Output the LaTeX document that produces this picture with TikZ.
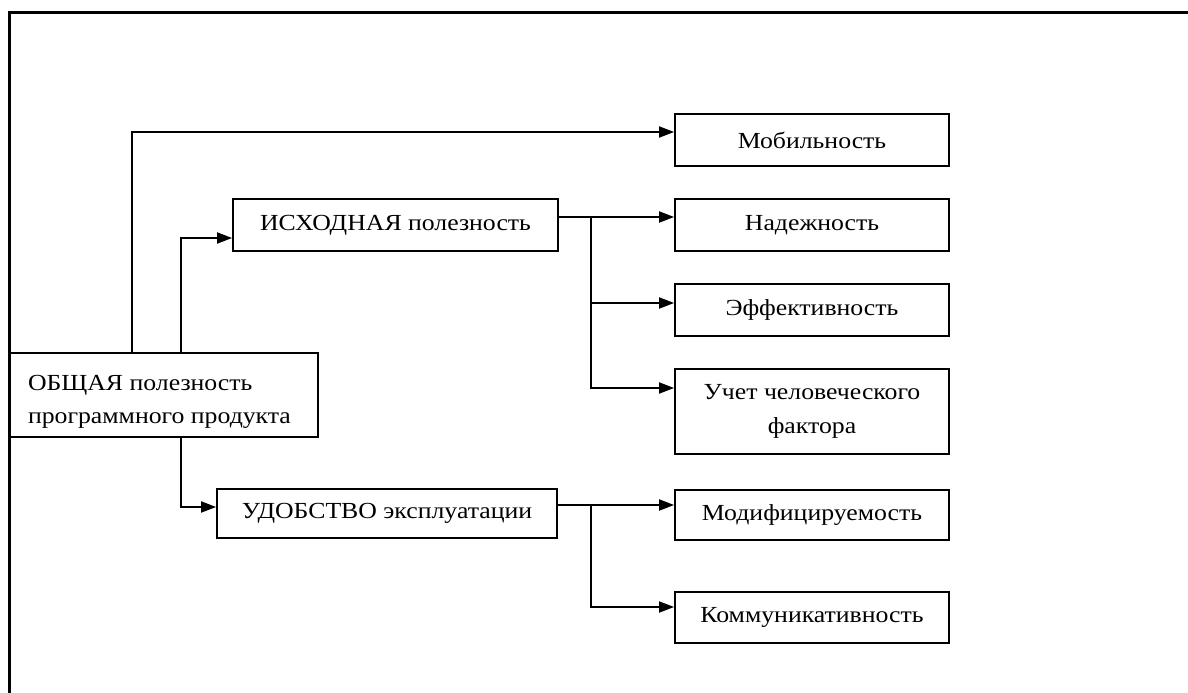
\documentclass[tikz,border=0pt]{standalone}
\usepackage{fontspec}
\setmainfont{Liberation Serif}
\newfontfamily\diafont[FakeStretch=1.12]{Liberation Serif}
\usetikzlibrary{arrows.meta}
\begin{document}
\begin{tikzpicture}[x=1pt,y=-1pt,
  box/.style={draw, line width=1.8pt, inner sep=0pt, align=center, font=\diafont\fontsize{23}{30}\selectfont},
  rbox/.style={box, minimum width=274pt},
  conn/.style={line width=1.8pt},
  arr/.style={conn, -{Triangle[length=15pt,width=11pt]}}]
\useasboundingbox (0,0) rectangle (1188,693);
\draw[line width=3pt] (9,693) -- (9,13) -- (1188,13);
% right column
\node[rbox, minimum height=52pt] (mob) at (812,140) {Мобильность};
\node[rbox, minimum height=52pt] (nad) at (812,225) {Надежность};
\node[rbox, minimum height=52pt] (eff) at (812,310) {Эффективность};
\node[rbox, minimum height=85pt] (uch) at (812,411.5) {Учет человеческого\\[4pt]фактора};
\node[rbox, minimum height=50pt] (mod) at (812,515) {Модифицируемость};
\node[rbox, minimum height=51pt] (kom) at (812,617.5) {Коммуникативность};
% middle
\node[box, minimum width=325pt, minimum height=52pt] (isx) at (395.5,225) {ИСХОДНАЯ полезность};
\node[box, minimum width=340pt, minimum height=49pt] (udo) at (387,513.5) {УДОБСТВО эксплуатации};
% left
\node[box, minimum width=308pt, minimum height=84pt] (obs) at (164,395) {\raisebox{-7pt}[\height][\depth]{\parbox{272pt}{\raggedright ОБЩАЯ полезность\\[3pt]программного продукта}}};
% connectors
\coordinate (b1) at (591,217);
\coordinate (b2) at (591,505);
\draw[arr] (obs.north -| 132,0) |- (mob.west |- 0,132);
\draw[arr] (obs.north -| 181,0) |- (isx.west |- 0,238);
\draw[arr] (obs.south -| 181,0) |- (udo.west |- 0,507);
\draw[arr] (isx.east |- b1) -- (nad.west |- b1);
\draw[arr] (b1) |- (eff.west |- 0,303);
\draw[arr] (b1) |- (uch.west |- 0,388);
\draw[arr] (udo.east |- b2) -- (mod.west |- b2);
\draw[arr] (b2) |- (kom.west |- 0,607);
\end{tikzpicture}
\end{document}
